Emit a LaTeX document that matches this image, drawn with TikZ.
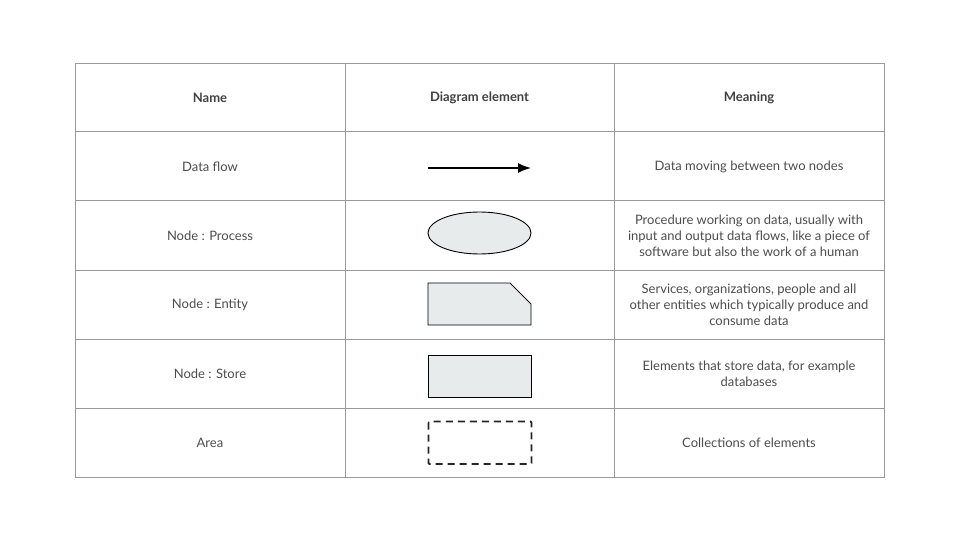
\documentclass[tikz,border=0pt]{standalone}
\usepackage{fontspec}
\setmainfont{Lato}
\usetikzlibrary{arrows.meta}
\begin{document}
\begin{tikzpicture}[x=1pt,y=-1pt,
  grid/.style={draw=black!40, line width=0.8pt},
  txt/.style={text=black!70, font=\fontsize{13}{16}\selectfont, align=center},
  head/.style={text=black!75, font=\fontsize{13}{16}\selectfont\bfseries, align=center},
  shapefill/.style={fill={rgb,255:red,232;green,235;blue,236}, draw=black, line width=0.9pt},
  arr/.style={-{Latex[length=13pt,width=10pt]}, line width=1.5pt, draw=black}
]
\useasboundingbox (0,0) rectangle (960,540);
% table grid
\draw[grid] (75,63) rectangle (884,477);
\foreach \yy in {131,200,270,339,408} \draw[grid] (75,\yy) -- (884,\yy);
\foreach \xx in {345,614} \draw[grid] (\xx,63) -- (\xx,477);
% header
\node[head] (h1) at (210,97.5) {Name};
\node[head] (h2) at (479.5,97.5) {Diagram element};
\node[head] (h3) at (749,97.5) {Meaning};
% names
\node[txt] (n1) at (210,166.5) {Data flow};
\node[txt] (n2) at (210,235.5) {Node : Process};
\node[txt] (n3) at (210,305) {Node : Entity};
\node[txt] (n4) at (210,374) {Node : Store};
\node[txt] (n5) at (210,443) {Area};
% meanings
\node[txt] (m1) at (749,166.5) {Data moving between two nodes};
\node[txt] (m2) at (749,235.5) {Procedure working on data, usually with\\input and output data flows, like a piece of\\software but also the work of a human};
\node[txt] (m3) at (749,305) {Services, organizations, people and all\\other entities which typically produce and\\consume data};
\node[txt] (m4) at (749,374) {Elements that store data, for example\\databases};
\node[txt] (m5) at (749,443) {Collections of elements};
% diagram elements
\coordinate (a1) at (428,168);
\coordinate (a2) at (531,168);
\draw[arr] (a1) -- (a2);
\draw[shapefill] (479.5,233) ellipse [x radius=51.5, y radius=21];
\draw[shapefill] (428,283) -- (510,283) -- (531,304) -- (531,325) -- (428,325) -- cycle;
\draw[shapefill] (428,355) rectangle (531,397);
\draw[draw=black!85, line width=1.8pt, dash pattern=on 7pt off 5pt, rounded corners=1pt] (428.5,421.5) rectangle (531.5,464);
\end{tikzpicture}
\end{document}
